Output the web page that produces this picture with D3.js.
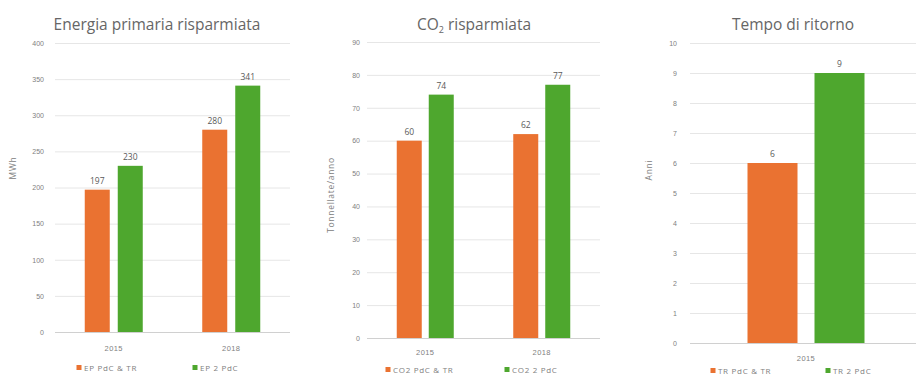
<!DOCTYPE html>
<html><head><meta charset="utf-8">
<script src="https://cdn.jsdelivr.net/npm/d3@7"></script>
<style>
body{margin:0;background:#fff;}
svg{display:block;font-family:"Open Sans","Noto Sans",sans-serif;}
</style></head>
<body><svg id="c" width="916" height="377"></svg>
<script>
// Chart 1: Energia primaria risparmiata
const epCategories = ["2015", "2018"];
const epSeriesNames = ["EP PdC & TR", "EP 2 PdC"];
const epValues1 = [197, 280];
const epValues2 = [230, 341];
const epTicks = [0, 50, 100, 150, 200, 250, 300, 350, 400];

// Chart 2: CO2 risparmiata
const co2Categories = ["2015", "2018"];
const co2SeriesNames = ["CO2 PdC & TR", "CO2 2 PdC"];
const co2Values1 = [60, 62];
const co2Values2 = [74, 77];
const co2Ticks = [0, 10, 20, 30, 40, 50, 60, 70, 80, 90];

// Chart 3: Tempo di ritorno
const trCategories = ["2015"];
const trSeriesNames = ["TR PdC & TR", "TR 2 PdC"];
const trValues1 = [6];
const trValues2 = [9];
const trTicks = [0, 1, 2, 3, 4, 5, 6, 7, 8, 9, 10];

const colors = ["#ea7231", "#4ea72e"];
const svg = d3.select("#c");

function drawChart(o) {
  const g = svg.append("g");
  const x = d3.scaleBand().domain(o.categories).range([o.left, o.right]);
  const y = d3.scaleLinear().domain([0, d3.max(o.ticks)]).range([o.bottom, o.top]);
  // gridlines
  g.append("g").selectAll("line").data(o.ticks).join("line")
    .attr("x1", o.left).attr("x2", o.right)
    .attr("y1", d => y(d) + 0.5).attr("y2", d => y(d) + 0.5)
    .attr("stroke", d => d === 0 ? "#d0d0d0" : "#e6e6e6").attr("stroke-width", 1);
  // y axis labels via d3 axis
  const ya = g.append("g").attr("transform", `translate(${o.tickX},0)`)
    .call(d3.axisLeft(y).tickValues(o.ticks).tickSize(0).tickPadding(0));
  ya.select(".domain").remove();
  ya.selectAll("text").attr("fill", "#808080").attr("font-size", 7);
  // x axis labels
  const xa = g.append("g").attr("transform", `translate(0,${o.bottom})`)
    .call(d3.axisBottom(x).tickSize(0).tickPadding(o.xPad));
  xa.select(".domain").remove();
  xa.selectAll("text").attr("fill", "#808080").attr("font-size", 7.5).attr("letter-spacing", 0.4);
  // bars
  const series = [o.v1, o.v2];
  series.forEach((vals, si) => {
    o.categories.forEach((c, ci) => {
      const cx = x(c) + x.bandwidth() / 2;
      const bx = si === 0 ? cx - o.gap / 2 - o.barW : cx + o.gap / 2;
      g.append("rect").attr("x", bx).attr("y", y(vals[ci]))
        .attr("width", o.barW).attr("height", y(0) - y(vals[ci]))
        .attr("fill", colors[si]);
      g.append("text").attr("x", bx + o.barW / 2).attr("y", y(vals[ci]) - 6)
        .attr("text-anchor", "middle").attr("font-size", 8.5).attr("fill", "#595959")
        .text(vals[ci]);
    });
  });
  // title
  const t = g.append("text").attr("x", o.titleX).attr("y", 30)
    .attr("text-anchor", "middle").attr("font-size", 15.5).attr("fill", "#666");
  if (o.titleSub) {
    t.append("tspan").text(o.title[0]);
    t.append("tspan").attr("font-size", 9).attr("dy", 3).text(o.titleSub);
    t.append("tspan").attr("dy", -3).text(o.title[1]);
  } else t.text(o.title);
  // y label
  g.append("text").attr("transform", `translate(${o.ylabX},${o.ylabY}) rotate(-90)`)
    .attr("text-anchor", "middle").attr("font-size", 8.5).attr("letter-spacing", 0.7)
    .attr("fill", "#808080").text(o.ylabel);
  // legend
  o.names.forEach((n, i) => {
    const lx = o.legX[i];
    g.append("rect").attr("x", lx - 2.5).attr("y", o.legY - 3).attr("width", 5).attr("height", 5).attr("fill", colors[i]);
    g.append("text").attr("x", lx + 5).attr("y", o.legY + 2.5).attr("font-size", 8)
      .attr("letter-spacing", 0.7).attr("fill", "#808080").text(n);
  });
}

drawChart({categories: epCategories, v1: epValues1, v2: epValues2, ticks: epTicks, names: epSeriesNames,
  left: 55, right: 290, top: 43, bottom: 332, tickX: 44, barW: 25, gap: 8, xPad: 14,
  title: "Energia primaria risparmiata", titleX: 157, ylabel: "MWh", ylabX: 16, ylabY: 168,
  legX: [79, 195], legY: 368});

drawChart({categories: co2Categories, v1: co2Values1, v2: co2Values2, ticks: co2Ticks, names: co2SeriesNames,
  left: 367, right: 600, top: 42, bottom: 338, tickX: 360, barW: 25, gap: 7, xPad: 12,
  title: ["CO", " risparmiata"], titleSub: "2", titleX: 474, ylabel: "Tonnellate/anno", ylabX: 334, ylabY: 195,
  legX: [388, 507], legY: 370});

drawChart({categories: trCategories, v1: trValues1, v2: trValues2, ticks: trTicks, names: trSeriesNames,
  left: 690, right: 922, top: 43, bottom: 343, tickX: 677, barW: 50, gap: 17, xPad: 13,
  title: "Tempo di ritorno", titleX: 793, ylabel: "Anni", ylabX: 652, ylabY: 170,
  legX: [713, 828], legY: 371});
</script></body></html>
